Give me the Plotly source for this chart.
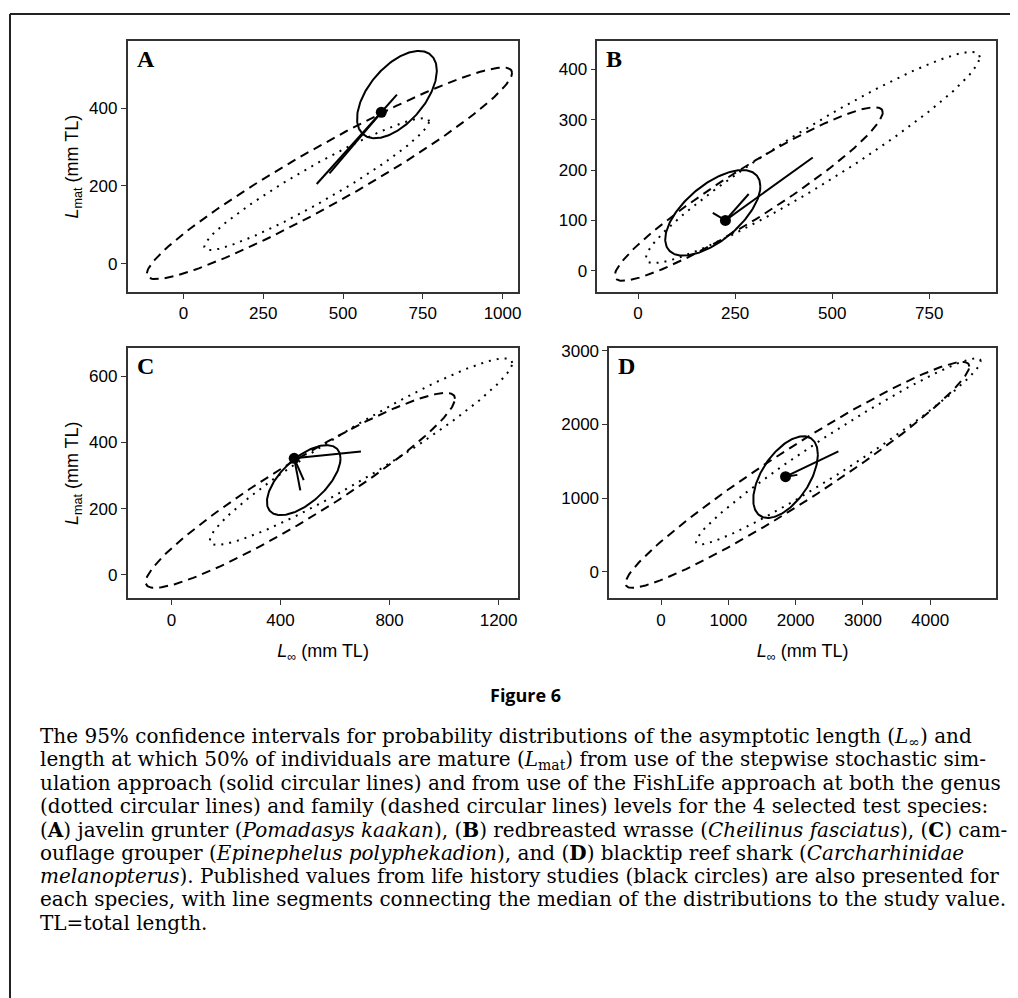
import numpy as np
import plotly.graph_objects as go

W, H = 1018, 998
OFF = 8  # page body margin

panels = ["A", "B", "C", "D"]

# study value (black circle) per species
study_x = [620, 225, 450, 1850]
study_y = [390, 100, 352, 1290]

# ellipse extents per species: (xmin, xmax), (ymin, ymax), correlation
solid_x = [(544, 794), (70, 315), (350, 620), (1370, 2330)]
solid_y = [(323, 548), (30, 200), (180, 392), (730, 1840)]
solid_r = [0.55, 0.62, 0.62, 0.55]

dotted_x = [(65, 770), (20, 880), (140, 1250), (520, 4750)]
dotted_y = [(35, 375), (15, 435), (90, 655), (370, 2900)]
dotted_r = [0.95, 0.95, 0.95, 0.97]

dashed_x = [(-115, 1030), (-60, 630), (-95, 1040), (-530, 4580)]
dashed_y = [(-40, 505), (-20, 325), (-40, 550), (-220, 2850)]
dashed_r = [0.95, 0.94, 0.94, 0.96]

# axis ranges and ticks
x_ranges = [(-175, 1050), (-105, 922), (-161, 1273), (-770, 4978)]
y_ranges = [(-74, 574), (-43, 457), (-72, 686), (-365, 3040)]
x_ticks = [[0, 250, 500, 750, 1000], [0, 250, 500, 750], [0, 400, 800, 1200],
           [0, 1000, 2000, 3000, 4000]]
y_ticks = [[0, 200, 400], [0, 100, 200, 300, 400], [0, 200, 400, 600],
           [0, 1000, 2000, 3000]]

# pixel boxes of the panels (left, right, top, bottom)
boxes = [(128, 520, 35, 288), (599, 999, 35, 288),
         (128, 520, 344, 596), (611, 999, 344, 596)]

caption_lines = [
    "The 95% confidence intervals for probability distributions of the asymptotic length (<i>L</i><sub>∞</sub>) and",
    "length at which 50% of individuals are mature (<i>L</i><sub>mat</sub>) from use of the stepwise stochastic sim-",
    "ulation approach (solid circular lines) and from use of the FishLife approach at both the genus",
    "(dotted circular lines) and family (dashed circular lines) levels for the 4 selected test species:",
    "(<b>A</b>) javelin grunter (<i>Pomadasys kaakan</i>), (<b>B</b>) redbreasted wrasse (<i>Cheilinus fasciatus</i>), (<b>C</b>) cam-",
    "ouflage grouper (<i>Epinephelus polyphekadion</i>), and (<b>D</b>) blacktip reef shark (<i>Carcharhinidae</i>",
    "<i>melanopterus</i>). Published values from life history studies (black circles) are also presented for",
    "each species, with line segments connecting the median of the distributions to the study value.",
    "TL=total length.",
]


def px(v):
    return (v - OFF) / W


def py(v):
    return 1 - (v - OFF) / H


def ellipse(xr, yr, rho, n=200):
    t = np.linspace(0, 2 * np.pi, n)
    cx, sx = (xr[0] + xr[1]) / 2, (xr[1] - xr[0]) / 2
    cy, sy = (yr[0] + yr[1]) / 2, (yr[1] - yr[0]) / 2
    x = cx + sx * np.cos(t)
    y = cy + sy * (rho * np.cos(t) + np.sqrt(1 - rho ** 2) * np.sin(t))
    return x, y, cx, cy


fig = go.Figure()
layout = {}
for i, p in enumerate(panels):
    ax = "" if i == 0 else str(i + 1)
    xa, ya = "x" + ax, "y" + ax
    medians = []
    for xr, yr, r, dash in [(solid_x[i], solid_y[i], solid_r[i], "solid"),
                            (dotted_x[i], dotted_y[i], dotted_r[i], "2px,6px"),
                            (dashed_x[i], dashed_y[i], dashed_r[i], "9px,6px")]:
        ex, ey, cx, cy = ellipse(xr, yr, r)
        medians.append((cx, cy))
        fig.add_trace(go.Scatter(x=ex, y=ey, mode="lines", xaxis=xa, yaxis=ya,
                                 line=dict(color="black", width=2, dash=dash),
                                 showlegend=False, hoverinfo="skip"))
    for cx, cy in medians:
        fig.add_trace(go.Scatter(x=[study_x[i], cx], y=[study_y[i], cy], mode="lines",
                                 xaxis=xa, yaxis=ya, line=dict(color="black", width=2),
                                 showlegend=False))
    fig.add_trace(go.Scatter(x=[study_x[i]], y=[study_y[i]], mode="markers",
                             xaxis=xa, yaxis=ya, marker=dict(color="black", size=11),
                             showlegend=False))
    l, r_, t, b = boxes[i]
    common = dict(showgrid=False, zeroline=False, showline=True, mirror=True,
                  linecolor="#333", linewidth=1.5, ticks="outside", ticklen=5,
                  tickcolor="#333", tickfont=dict(family="Liberation Sans", size=17, color="black"))
    layout["xaxis" + ax] = dict(domain=[px(l), px(r_)], range=list(x_ranges[i]),
                                tickvals=x_ticks[i], anchor=ya, **common)
    layout["yaxis" + ax] = dict(domain=[py(b), py(t)], range=list(y_ranges[i]),
                                tickvals=y_ticks[i], anchor=xa, **common)
    if i in (0, 2):
        layout["yaxis" + ax]["title"] = dict(
            text="<i>L</i><sub>mat</sub> (mm TL)", standoff=6,
            font=dict(family="Liberation Sans", size=18, color="black"))
    if i in (2, 3):
        layout["xaxis" + ax]["title"] = dict(
            text="<i>L</i><sub>∞</sub> (mm TL)", standoff=16,
            font=dict(family="Liberation Sans", size=18, color="black"))

annotations = []
for i, p in enumerate(panels):
    l, r_, t, b = boxes[i]
    annotations.append(dict(text="<b>" + p + "</b>", x=px(l + 7), y=py(t + 3),
                            xref="paper", yref="paper", xanchor="left", yanchor="top",
                            showarrow=False,
                            font=dict(family="Liberation Serif", size=24, color="black")))
annotations.append(dict(text="<b>Figure 6</b>", x=px(527), y=py(707),
                        xref="paper", yref="paper", showarrow=False,
                        font=dict(family="Open Sans", size=18, color="black")))
for k, line in enumerate(caption_lines):
    annotations.append(dict(text=line, x=px(38), y=py(735 + 23.4 * k),
                            xref="paper", yref="paper", xanchor="left", yanchor="middle",
                            showarrow=False,
                            font=dict(family="DejaVu Serif", size=20, color="black")))

shapes = [
    dict(type="line", xref="paper", yref="paper", x0=px(10), x1=1, y0=1, y1=1,
         line=dict(color="#222", width=2)),
    dict(type="line", xref="paper", yref="paper", x0=px(10), x1=px(10), y0=0, y1=1,
         line=dict(color="#222", width=2)),
]

fig.update_layout(width=W, height=H, margin=dict(l=0, r=0, t=0, b=0),
                  paper_bgcolor="white", plot_bgcolor="white",
                  annotations=annotations, shapes=shapes, **layout)
fig.write_html("out.html")
